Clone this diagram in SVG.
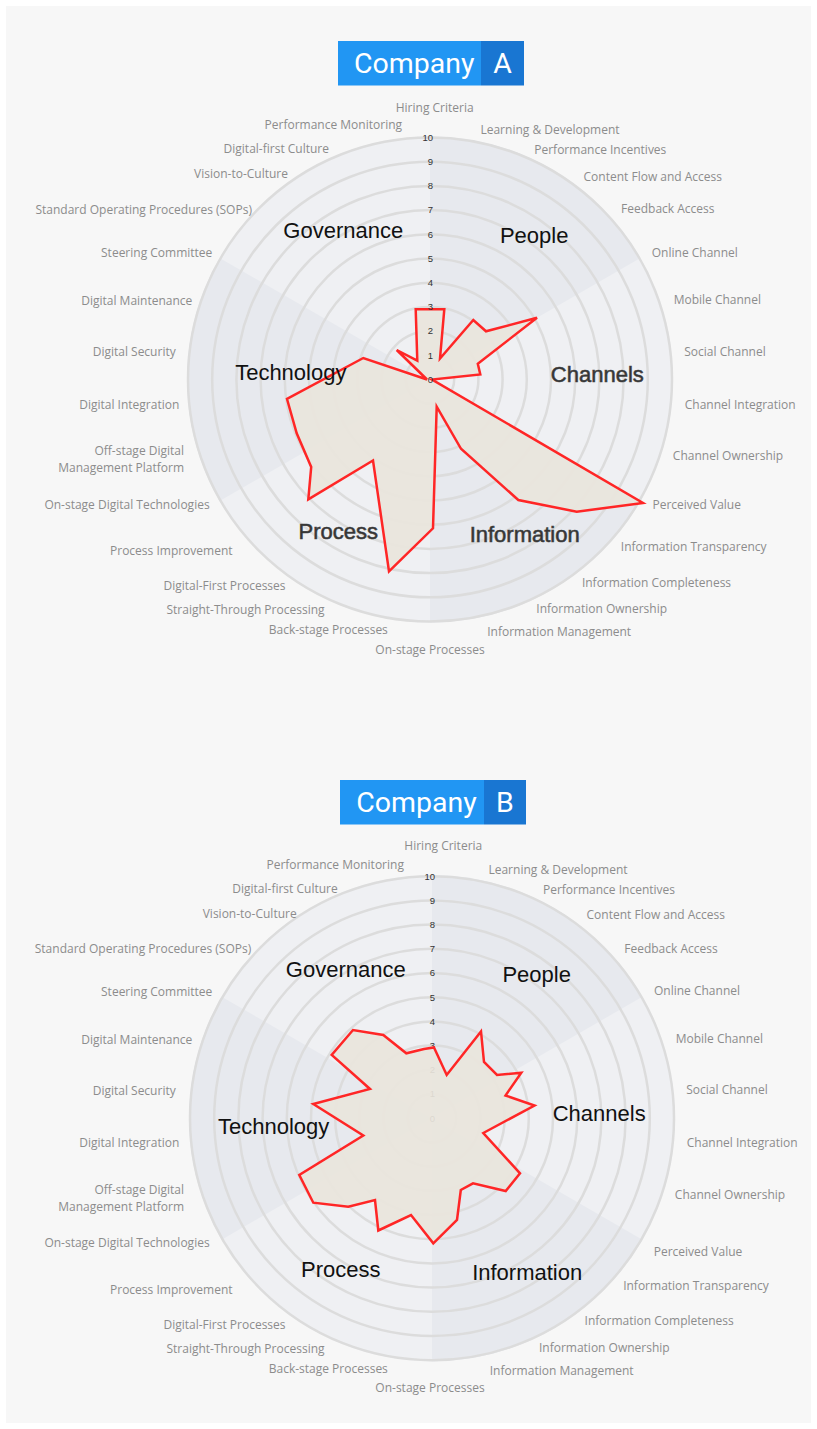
<svg xmlns="http://www.w3.org/2000/svg" xmlns:xlink="http://www.w3.org/1999/xlink" width="817" height="1429" viewBox="0 0 817 1429">
<style>
.page{fill:#ffffff}
.panel{fill:#f7f7f7}
.sl{fill:#eff0f3}
.sd{fill:#e7e9ee}
.ring{fill:none;stroke:#dcdcdc;stroke-width:2.5}
.num{font-family:"Liberation Sans",Arial,sans-serif;font-size:9.5px;fill:#333;text-anchor:end}
.lab{font-family:"Open Sans","Noto Sans",sans-serif;font-size:12px;fill:#8c8c8c;text-anchor:middle}
.labe{font-family:"Open Sans","Noto Sans",sans-serif;font-size:12px;fill:#8c8c8c;text-anchor:end}
.cat{font-family:"Liberation Sans",Arial,sans-serif;font-size:22px;fill:#111;text-anchor:middle}
.catb{font-family:"Liberation Sans",Arial,sans-serif;font-size:22px;fill:#333;stroke:#444;stroke-width:0.6;text-anchor:middle}
.poly{fill:#e9e5dc;fill-opacity:.92;stroke:#ff2626;stroke-width:2.5;stroke-linejoin:miter}
.t1{fill:#2196f3}
.t2{fill:#1976d2}
.tt{font-family:Roboto,"Liberation Sans",sans-serif;font-size:28.5px;fill:#fff;text-anchor:middle}
</style>
<defs>
<g id="dial">
<circle class="sl" cx="0" cy="0" r="243"/>
<path class="sd" d="M0,0 L0,-243 A243,243 0 0 1 210.4,-121.5 Z"/>
<path class="sd" d="M0,0 L210.4,121.5 A243,243 0 0 1 0,243 Z"/>
<path class="sd" d="M0,0 L-210.4,121.5 A243,243 0 0 1 -210.4,-121.5 Z"/>
<circle class="ring" r="24.2"/>
<circle class="ring" r="48.4"/>
<circle class="ring" r="72.6"/>
<circle class="ring" r="96.8"/>
<circle class="ring" r="121"/>
<circle class="ring" r="145.2"/>
<circle class="ring" r="169.4"/>
<circle class="ring" r="193.6"/>
<circle class="ring" r="217.8"/>
<circle class="ring" r="242"/>
</g>
<g id="scale">
<text class="num" x="3" y="3.3">0</text>
<text class="num" x="3" y="-20.9">1</text>
<text class="num" x="3" y="-45.1">2</text>
<text class="num" x="3" y="-69.3">3</text>
<text class="num" x="3" y="-93.5">4</text>
<text class="num" x="3" y="-117.7">5</text>
<text class="num" x="3" y="-141.9">6</text>
<text class="num" x="3" y="-166.1">7</text>
<text class="num" x="3" y="-190.3">8</text>
<text class="num" x="3" y="-214.5">9</text>
<text class="num" x="3" y="-238.7">10</text>
</g>
</defs>

<rect class="page" x="0" y="0" width="817" height="1429"/>
<rect class="panel" x="6" y="6" width="805" height="1417"/>

<!-- Company A -->
<g id="titleA">
<rect class="t1" x="338" y="41" width="143" height="44.5"/>
<rect class="t2" x="481" y="41" width="43" height="44.5"/>
<text class="tt" x="414.2" y="72.5">Company</text>
<text class="tt" x="502.5" y="72.5">A</text>
</g>
<g id="chartA">
<use xlink:href="#dial" href="#dial" x="430" y="379.5"/>
<g id="connectorsA">
<polygon class="poly" points="444.3,309.3 440,358.5 473.3,320 486,331.3 537,317.8 477.8,363.7 480.3,374.5 432,379.5 643,503 576.7,511.7 518.3,500 461,448.8 436.7,406.7 433,528.3 389,571.5 373,460.5 308.3,499.3 311.2,467 296.7,433.3 287,399 363.3,358 427,379.5 396.7,350 417.3,360.7 415.7,309.3"/>
</g>
<use xlink:href="#scale" href="#scale" x="430" y="379.5"/>
<g id="catsA">
<text class="cat" x="343.3" y="237.7">Governance</text>
<text class="cat" x="534.2" y="242.7">People</text>
<text class="catb" x="597.3" y="381.7">Channels</text>
<text class="cat" x="290.8" y="379.5">Technology</text>
<text class="catb" x="338.2" y="539.3">Process</text>
<text class="catb" x="524.7" y="541.7">Information</text>
</g>
<g id="labelsA">
<text class="lab" x="434.7" y="111.5">Hiring Criteria</text>
<text class="lab" x="550" y="134.2">Learning &amp; Development</text>
<text class="lab" x="600.3" y="153.5">Performance Incentives</text>
<text class="lab" x="652.8" y="180.6">Content Flow and Access</text>
<text class="lab" x="667.8" y="213.1">Feedback Access</text>
<text class="lab" x="694.8" y="256.7">Online Channel</text>
<text class="lab" x="717.3" y="304.2">Mobile Channel</text>
<text class="lab" x="725" y="355.6">Social Channel</text>
<text class="lab" x="740.2" y="408.5">Channel Integration</text>
<text class="lab" x="728" y="460.2">Channel Ownership</text>
<text class="lab" x="696.7" y="508.5">Perceived Value</text>
<text class="lab" x="693.7" y="550.6">Information Transparency</text>
<text class="lab" x="656.5" y="587.1">Information Completeness</text>
<text class="lab" x="601.7" y="612.9">Information Ownership</text>
<text class="lab" x="559.2" y="635.9">Information Management</text>
<text class="lab" x="430" y="653.5">On-stage Processes</text>
<text class="lab" x="328.3" y="634.2">Back-stage Processes</text>
<text class="lab" x="245.5" y="613.5">Straight-Through Processing</text>
<text class="lab" x="224.5" y="589.9">Digital-First Processes</text>
<text class="lab" x="171.3" y="554.9">Process Improvement</text>
<text class="lab" x="127" y="508.5">On-stage Digital Technologies</text>
<text class="labe" x="184" y="454.9">Off-stage Digital</text>
<text class="labe" x="184" y="471.7">Management Platform</text>
<text class="lab" x="129.3" y="408.5">Digital Integration</text>
<text class="lab" x="134.2" y="356">Digital Security</text>
<text class="lab" x="136.8" y="304.9">Digital Maintenance</text>
<text class="lab" x="156.7" y="256.7">Steering Committee</text>
<text class="lab" x="143.7" y="213.5">Standard Operating Procedures (SOPs)</text>
<text class="lab" x="241" y="177.5">Vision-to-Culture</text>
<text class="lab" x="276.3" y="152.5">Digital-first Culture</text>
<text class="lab" x="333.3" y="129.2">Performance Monitoring</text>
</g>
</g>

<!-- Company B -->
<g id="titleB">
<rect class="t1" x="340" y="780" width="144" height="44.5"/>
<rect class="t2" x="484" y="780" width="42" height="44.5"/>
<text class="tt" x="416.5" y="811.5">Company</text>
<text class="tt" x="505" y="811.5">B</text>
</g>
<g id="chartB">
<use xlink:href="#dial" href="#dial" x="432" y="1118.2"/>
<use xlink:href="#scale" href="#scale" x="432" y="1118.2"/>
<g id="connectorsB">
<polygon class="poly" points="434,1047.5 446.7,1075 481,1031.5 484,1062 497,1075 521.3,1072.7 505.5,1095.5 534.5,1105.5 483.3,1133 520,1173.3 505.7,1191 473,1183.3 460.8,1190 457,1220 433.3,1243.3 411,1215 378.3,1230.5 375,1200 348.3,1206.7 313.3,1202.7 299.3,1175 363.3,1135.5 313.3,1104 370,1089 331.7,1055 353,1030 383.3,1035 406.3,1053.3 424,1049"/>
</g>
<g id="catsB">
<text class="cat" x="345.8" y="977.3">Governance</text>
<text class="cat" x="536.7" y="982.3">People</text>
<text class="cat" x="599.2" y="1121">Channels</text>
<text class="cat" x="273.7" y="1134">Technology</text>
<text class="cat" x="340.8" y="1277.3">Process</text>
<text class="cat" x="527.2" y="1280">Information</text>
</g>
<g id="labelsB">
<text class="lab" x="443.3" y="849.9">Hiring Criteria</text>
<text class="lab" x="558" y="874.2">Learning &amp; Development</text>
<text class="lab" x="609" y="893.5">Performance Incentives</text>
<text class="lab" x="655.8" y="918.5">Content Flow and Access</text>
<text class="lab" x="671" y="952.5">Feedback Access</text>
<text class="lab" x="697" y="995">Online Channel</text>
<text class="lab" x="719.3" y="1042.7">Mobile Channel</text>
<text class="lab" x="727" y="1094">Social Channel</text>
<text class="lab" x="742.2" y="1146.8">Channel Integration</text>
<text class="lab" x="730" y="1198.5">Channel Ownership</text>
<text class="lab" x="698" y="1256.2">Perceived Value</text>
<text class="lab" x="696" y="1289.9">Information Transparency</text>
<text class="lab" x="659.2" y="1324.9">Information Completeness</text>
<text class="lab" x="604.3" y="1351.5">Information Ownership</text>
<text class="lab" x="561.7" y="1374.9">Information Management</text>
<text class="lab" x="430" y="1391.9">On-stage Processes</text>
<text class="lab" x="328.3" y="1372.5">Back-stage Processes</text>
<text class="lab" x="245.5" y="1352.5">Straight-Through Processing</text>
<text class="lab" x="224.5" y="1328.5">Digital-First Processes</text>
<text class="lab" x="171.3" y="1293.5">Process Improvement</text>
<text class="lab" x="127" y="1246.9">On-stage Digital Technologies</text>
<text class="labe" x="184" y="1193.5">Off-stage Digital</text>
<text class="labe" x="184" y="1210.9">Management Platform</text>
<text class="lab" x="129.3" y="1147.2">Digital Integration</text>
<text class="lab" x="134.2" y="1094.5">Digital Security</text>
<text class="lab" x="136.8" y="1044.2">Digital Maintenance</text>
<text class="lab" x="156.7" y="995.9">Steering Committee</text>
<text class="lab" x="143" y="952.5">Standard Operating Procedures (SOPs)</text>
<text class="lab" x="249.7" y="917.5">Vision-to-Culture</text>
<text class="lab" x="285" y="892.5">Digital-first Culture</text>
<text class="lab" x="335.2" y="869.2">Performance Monitoring</text>
</g>
</g>
</svg>
